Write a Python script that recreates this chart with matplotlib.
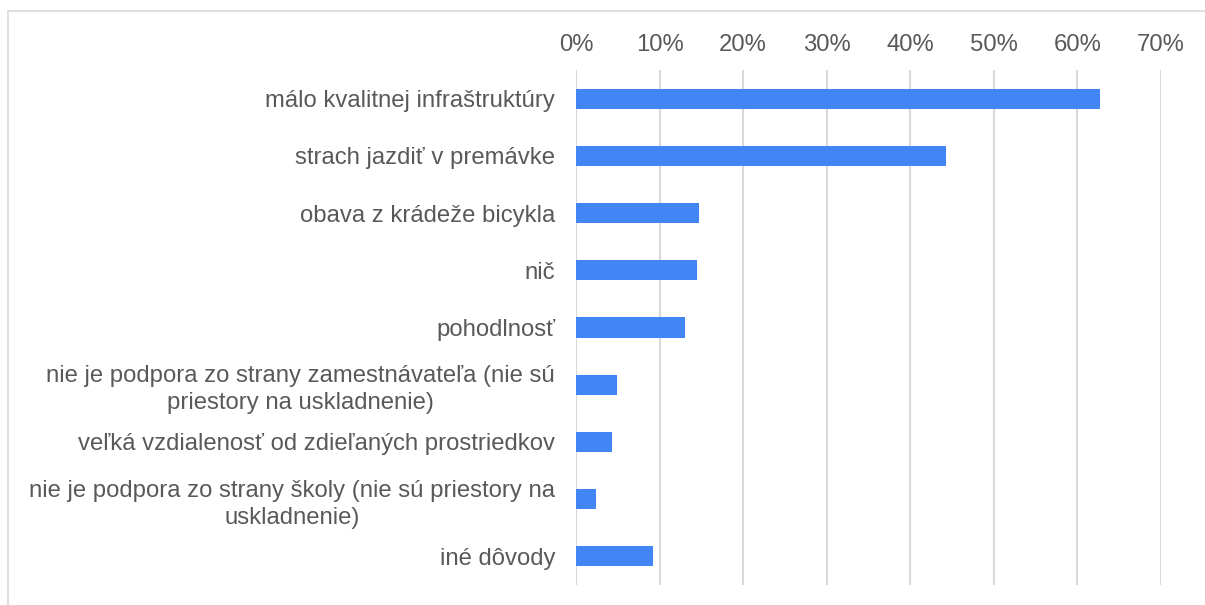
import matplotlib.pyplot as plt
from matplotlib.patches import Rectangle
from matplotlib.ticker import PercentFormatter

categories = [
    'málo kvalitnej infraštruktúry',
    'strach jazdiť v premávke',
    'obava z krádeže bicykla',
    'nič',
    'pohodlnosť',
    'nie je podpora zo strany zamestnávateľa (nie sú\npriestory na uskladnenie)',
    'veľká vzdialenosť od zdieľaných prostriedkov',
    'nie je podpora zo strany školy (nie sú priestory na\nuskladnenie)',
    'iné dôvody',
]
values = [62.7, 44.3, 14.7, 14.5, 13.0, 4.9, 4.3, 2.4, 9.2]
ticks = [0, 10, 20, 30, 40, 50, 60, 70]

plt.rcParams['font.family'] = ['Liberation Sans', 'DejaVu Sans']
text_color = '#595959'
grid_color = '#d9d9d9'

fig = plt.figure(figsize=(12.05, 6.05), dpi=100)
ax = fig.add_axes([576 / 1205, 1 - 585 / 605, (1161 - 576) / 1205, (585 - 70) / 605])

# outer chart frame (right/bottom edges fall outside the image)
fig.patches.append(Rectangle((8 / 1205, -0.05), 1.2, 1 - 11 / 605 + 0.05,
                             transform=fig.transFigure, fill=False,
                             edgecolor=grid_color, linewidth=1.2))

y = list(range(len(categories)))
ax.barh(y, values, height=0.35, color='#4285F4', zorder=3)

ax.set_xlim(0, 70)
ax.set_ylim(len(categories) - 0.5, -0.5)
ax.set_xticks(ticks)
ax.xaxis.set_major_formatter(PercentFormatter(decimals=0))
ax.xaxis.tick_top()
ax.set_yticks(y)
ax.set_yticklabels(categories, multialignment='center', linespacing=1.3)
ax.tick_params(axis='both', length=0, labelsize=17.2, colors=text_color)
ax.tick_params(axis='x', pad=10)
ax.tick_params(axis='y', pad=15)
ax.grid(axis='x', color=grid_color, linewidth=1.5, zorder=0)
for s in ax.spines.values():
    s.set_visible(False)

fig.savefig('out.png', dpi=100)
